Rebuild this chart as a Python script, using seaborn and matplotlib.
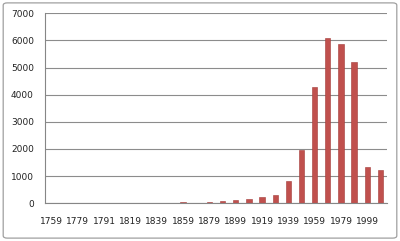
import matplotlib
matplotlib.use("Agg")
import matplotlib.pyplot as plt
import seaborn as sns
import pandas as pd
from matplotlib.patches import FancyBboxPatch

years = ["1759", "1769", "1779", "1789", "1791", "1809", "1819", "1829", "1839", "1849",
         "1859", "1869", "1879", "1889", "1899", "1909", "1919", "1929", "1939", "1949",
         "1959", "1969", "1979", "1989", "1999", "2009"]
counts = [0, 0, 0, 0, 0, 0, 0, 0, 0, 0,
          30, 0, 40, 80, 110, 170, 210, 290, 800, 1960,
          4290, 6090, 5870, 5200, 1330, 1230]
shown_labels = years[::2]
y_ticks = [0, 1000, 2000, 3000, 4000, 5000, 6000, 7000]

sns.set_style("white")
plt.rcParams['font.family'] = ['DejaVu Sans']

df = pd.DataFrame({"year": years, "count": counts})

fig = plt.figure(figsize=(4.0, 2.41), dpi=100)
ax = fig.add_axes([0.1125, 0.157, 0.855, 0.788])

sns.barplot(data=df, x="year", y="count", order=years, color="#C0504D",
            width=0.4, edgecolor="#A23B39", linewidth=0.4, saturation=1, ax=ax)

ax.set_xlim(-0.5, len(years) - 0.5)
ax.set_ylim(0, 7000)
ax.set_yticks(y_ticks)
ax.set_yticklabels([str(v) for v in y_ticks], fontsize=6.5, color="#222222")
ax.set_xticks(range(0, len(years), 2))
ax.set_xticklabels(shown_labels, fontsize=6.5, color="#222222")
ax.set_xticks([i - 0.5 for i in range(len(years) + 1)], minor=True)
ax.tick_params(axis="x", which="major", length=0, pad=10)
ax.tick_params(axis="x", which="minor", length=4, width=0.8, color="#868686", direction="out")
ax.tick_params(axis="y", which="major", length=4, width=0.8, color="#868686", direction="out", pad=4)
ax.yaxis.grid(True, color="#8C8C8C", linewidth=0.8)
ax.set_axisbelow(True)
ax.set_xlabel("")
ax.set_ylabel("")
for s in ["top", "right"]:
    ax.spines[s].set_visible(False)
for s in ["left", "bottom"]:
    ax.spines[s].set_color("#868686")
    ax.spines[s].set_linewidth(0.8)

frame = FancyBboxPatch((0.008, 0.012), 0.984, 0.976,
                       boxstyle="round,pad=0,rounding_size=0.01",
                       transform=fig.transFigure, fill=False,
                       edgecolor="#A0A0A0", linewidth=0.9)
fig.patches.append(frame)

fig.savefig("out.png", dpi=100)
